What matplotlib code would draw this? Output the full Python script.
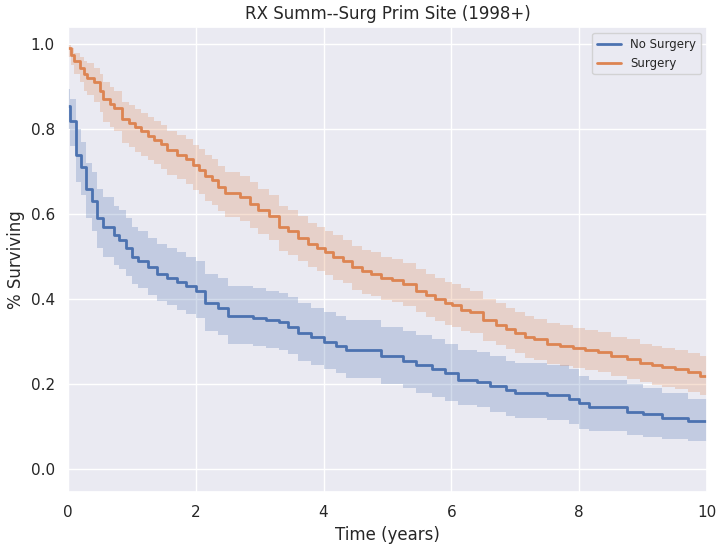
import matplotlib

matplotlib.use("Agg")
import matplotlib.pyplot as plt
import numpy as np
import seaborn as sns

TITLE = "RX Summ--Surg Prim Site (1998+)"
GROUPS = ["No Surgery", "Surgery"]

# Kaplan-Meier step estimates (time in years)
no_surg_t = [0, 0.03, 0.12, 0.2, 0.28, 0.38, 0.45, 0.55, 0.72, 0.8,
             0.9, 1.0, 1.1, 1.25, 1.4, 1.55, 1.7, 1.85, 2.0, 2.15,
             2.35, 2.5, 2.9, 3.1, 3.3, 3.45, 3.6, 3.8, 4.0, 4.2,
             4.35, 4.9, 5.25, 5.45, 5.7, 5.9, 6.1, 6.4, 6.6, 6.85,
             7.0, 7.5, 7.85, 8.0, 8.15, 8.75, 9.0, 9.3, 9.7]
no_surg_s = [0.855, 0.82, 0.74, 0.71, 0.66, 0.63, 0.59, 0.57, 0.55, 0.54,
             0.52, 0.50, 0.49, 0.475, 0.46, 0.45, 0.44, 0.43, 0.42, 0.39,
             0.38, 0.36, 0.355, 0.35, 0.345, 0.335, 0.32, 0.31, 0.30, 0.29,
             0.28, 0.265, 0.255, 0.245, 0.235, 0.225, 0.21, 0.205, 0.195, 0.185,
             0.18, 0.175, 0.165, 0.155, 0.145, 0.135, 0.13, 0.12, 0.113]
no_surg_hi = [0.895, 0.87, 0.80, 0.77, 0.72, 0.70, 0.66, 0.64, 0.62, 0.61,
              0.59, 0.57, 0.56, 0.545, 0.53, 0.52, 0.51, 0.50, 0.49, 0.46,
              0.45, 0.43, 0.425, 0.42, 0.415, 0.405, 0.39, 0.38, 0.37, 0.36,
              0.35, 0.335, 0.325, 0.315, 0.305, 0.295, 0.28, 0.275, 0.265, 0.255,
              0.25, 0.245, 0.235, 0.22, 0.21, 0.20, 0.19, 0.18, 0.165]
no_surg_lo = [0.80, 0.76, 0.675, 0.645, 0.59, 0.56, 0.52, 0.50, 0.48, 0.47,
              0.455, 0.435, 0.425, 0.41, 0.395, 0.385, 0.375, 0.365, 0.355, 0.325,
              0.315, 0.295, 0.29, 0.285, 0.28, 0.27, 0.255, 0.245, 0.235, 0.225,
              0.215, 0.20, 0.19, 0.18, 0.17, 0.16, 0.15, 0.145, 0.135, 0.125,
              0.12, 0.115, 0.105, 0.095, 0.09, 0.08, 0.075, 0.07, 0.065]

surg_t = [0, 0.05, 0.1, 0.18, 0.25, 0.3, 0.4, 0.5, 0.55, 0.65,
          0.72, 0.85, 0.95, 1.05, 1.15, 1.25, 1.35, 1.45, 1.55, 1.7,
          1.85, 1.95, 2.05, 2.15, 2.25, 2.35, 2.45, 2.7, 2.85, 2.97,
          3.15, 3.3, 3.45, 3.6, 3.76, 3.9, 4.02, 4.15, 4.3, 4.45,
          4.6, 4.75, 4.9, 5.07, 5.25, 5.45, 5.6, 5.75, 5.9, 6.01,
          6.15, 6.3, 6.5, 6.7, 6.85, 7.0, 7.15, 7.3, 7.5, 7.7,
          7.9, 8.1, 8.3, 8.5, 8.75, 8.95, 9.15, 9.3, 9.5, 9.7,
          9.9]
surg_s = [0.99, 0.975, 0.96, 0.945, 0.93, 0.92, 0.91, 0.89, 0.87, 0.86,
          0.85, 0.825, 0.815, 0.805, 0.795, 0.785, 0.775, 0.765, 0.75, 0.74,
          0.73, 0.715, 0.705, 0.69, 0.68, 0.665, 0.65, 0.64, 0.625, 0.61,
          0.595, 0.57, 0.56, 0.545, 0.53, 0.52, 0.51, 0.50, 0.49, 0.475,
          0.465, 0.46, 0.45, 0.445, 0.435, 0.42, 0.41, 0.40, 0.39, 0.385,
          0.375, 0.37, 0.35, 0.34, 0.33, 0.32, 0.31, 0.305, 0.295, 0.29,
          0.285, 0.28, 0.275, 0.265, 0.26, 0.25, 0.245, 0.24, 0.235, 0.228,
          0.22]
surg_hi = [0.999, 0.99, 0.98, 0.97, 0.96, 0.955, 0.945, 0.93, 0.91, 0.90,
           0.89, 0.865, 0.857, 0.848, 0.838, 0.829, 0.82, 0.81, 0.796, 0.787,
           0.777, 0.763, 0.753, 0.739, 0.729, 0.714, 0.699, 0.69, 0.675, 0.66,
           0.645, 0.62, 0.61, 0.595, 0.58, 0.57, 0.56, 0.55, 0.54, 0.525,
           0.515, 0.51, 0.50, 0.495, 0.485, 0.47, 0.46, 0.45, 0.44, 0.435,
           0.425, 0.42, 0.40, 0.39, 0.38, 0.37, 0.36, 0.354, 0.344, 0.338,
           0.333, 0.327, 0.322, 0.311, 0.306, 0.295, 0.29, 0.285, 0.28, 0.272,
           0.265]
surg_lo = [0.97, 0.95, 0.93, 0.91, 0.89, 0.88, 0.865, 0.84, 0.818, 0.806,
           0.795, 0.768, 0.757, 0.747, 0.737, 0.727, 0.717, 0.707, 0.692, 0.682,
           0.672, 0.657, 0.647, 0.632, 0.622, 0.607, 0.593, 0.583, 0.568, 0.553,
           0.538, 0.514, 0.504, 0.489, 0.475, 0.465, 0.456, 0.446, 0.437, 0.422,
           0.412, 0.407, 0.397, 0.393, 0.383, 0.369, 0.359, 0.349, 0.34, 0.335,
           0.326, 0.321, 0.302, 0.292, 0.282, 0.272, 0.262, 0.257, 0.247, 0.242,
           0.237, 0.233, 0.228, 0.218, 0.213, 0.204, 0.199, 0.194, 0.189, 0.182,
           0.174]

T_END = 10

sns.set_theme(style="darkgrid")
colors = sns.color_palette("deep")

fig = plt.figure(figsize=(7.19, 5.44), dpi=100)
ax = fig.add_axes([0.0946, 0.0956, 0.8884, 0.8544])

series = [
    (no_surg_t, no_surg_s, no_surg_lo, no_surg_hi),
    (surg_t, surg_s, surg_lo, surg_hi),
]
for (t, s, lo, hi), name, c in zip(series, GROUPS, colors):
    tt = np.append(t, T_END)
    ax.plot(tt, np.append(s, s[-1]), drawstyle="steps-post", color=c, lw=2, label=name)
    ax.fill_between(tt, np.append(lo, lo[-1]), np.append(hi, hi[-1]),
                    step="post", color=c, alpha=0.25, lw=0)

ax.set_xlim(0, T_END)
ax.set_ylim(-0.054, 1.04)
ax.set_xticks([0, 2, 4, 6, 8, 10])
ax.set_yticks([0.0, 0.2, 0.4, 0.6, 0.8, 1.0])
ax.tick_params(labelsize=11)
ax.set_xlabel("Time (years)", fontsize=12)
ax.set_ylabel("% Surviving", fontsize=12)
ax.set_title(TITLE, fontsize=12)
ax.legend(loc="upper right", fontsize=8.5)

fig.savefig("out.png", dpi=100)
